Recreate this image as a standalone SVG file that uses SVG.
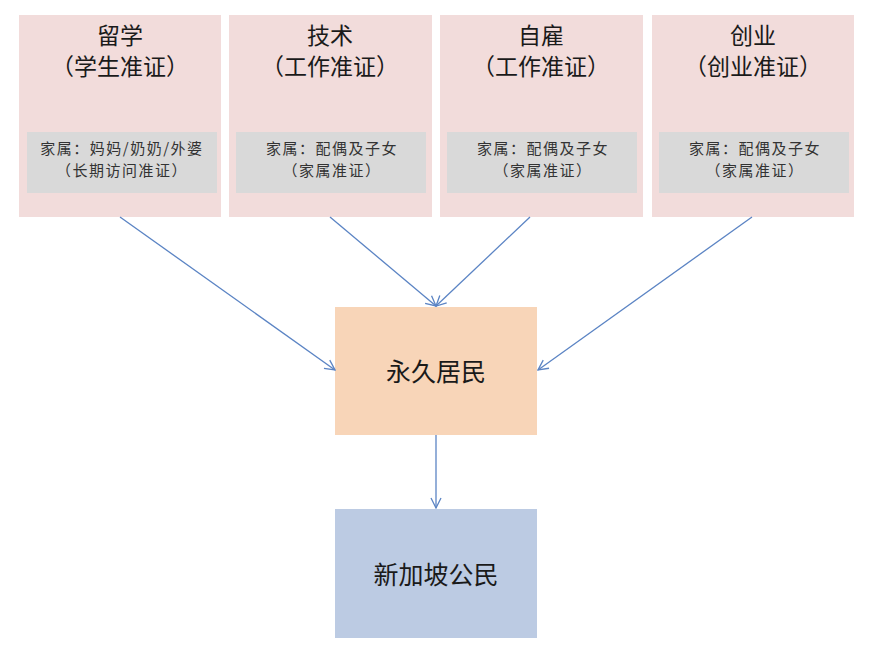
<svg xmlns="http://www.w3.org/2000/svg" width="876" height="654" viewBox="0 0 876 654">
<style>
.card{fill:#F2DCDB;}
.sub{fill:#D9D9D9;}
.t{font-family:"Noto Sans CJK SC","Noto Sans CJK TC",sans-serif;fill:#1a1a1a;text-anchor:middle;}
.big{font-size:23px;}
.mid{font-size:25px;}
.small{font-size:15px;letter-spacing:1.5px;fill:#333;}
.conn{stroke:#5B84C4;stroke-width:1.3;fill:none;marker-end:url(#arr);}
</style>
<defs>
<marker id="arr" viewBox="0 0 12 12" refX="11" refY="6" markerWidth="12" markerHeight="12" markerUnits="userSpaceOnUse" orient="auto">
<path d="M1,1 L11,6 L1,11" fill="none" stroke="#5B84C4" stroke-width="1.3"/>
</marker>
</defs>
<rect width="876" height="654" fill="#ffffff"/>
<g id="study">
<rect class="card" x="19" y="15" width="202" height="202"/>
<text class="t big" x="120" y="44">留学</text>
<text class="t big" x="120" y="75">（学生准证）</text>
<rect class="sub" x="27" y="132" width="190" height="61"/>
<text class="t small" x="122" y="154">家属：妈妈/奶奶/外婆</text>
<text class="t small" x="122" y="176">（长期访问准证）</text>
</g>
<g id="tech">
<rect class="card" x="229" y="15" width="203" height="202"/>
<text class="t big" x="330" y="44">技术</text>
<text class="t big" x="330" y="75">（工作准证）</text>
<rect class="sub" x="236" y="132" width="190" height="61"/>
<text class="t small" x="332" y="154">家属：配偶及子女</text>
<text class="t small" x="332" y="176">（家属准证）</text>
</g>
<g id="employ">
<rect class="card" x="440" y="15" width="203" height="202"/>
<text class="t big" x="541" y="44">自雇</text>
<text class="t big" x="541" y="75">（工作准证）</text>
<rect class="sub" x="447" y="132" width="190" height="61"/>
<text class="t small" x="543" y="154">家属：配偶及子女</text>
<text class="t small" x="543" y="176">（家属准证）</text>
</g>
<g id="startup">
<rect class="card" x="652" y="15" width="202" height="202"/>
<text class="t big" x="753" y="44">创业</text>
<text class="t big" x="753" y="75">（创业准证）</text>
<rect class="sub" x="659" y="132" width="190" height="61"/>
<text class="t small" x="755" y="154">家属：配偶及子女</text>
<text class="t small" x="755" y="176">（家属准证）</text>
</g>
<g id="pr">
<rect x="335" y="307" width="202" height="128" fill="#F8D5B8"/>
<text class="t mid" x="436" y="381">永久居民</text>
</g>
<g id="citizen">
<rect x="335" y="509" width="202" height="129" fill="#BCCBE3"/>
<text class="t mid" x="436" y="584">新加坡公民</text>
</g>
<g id="connectors">
<line class="conn" x1="120" y1="217" x2="335" y2="370"/>
<line class="conn" x1="330" y1="217" x2="436" y2="306"/>
<line class="conn" x1="530" y1="217" x2="436" y2="306"/>
<line class="conn" x1="752" y1="217" x2="538" y2="370"/>
<line class="conn" x1="436" y1="435" x2="436" y2="508"/>
</g>
</svg>
